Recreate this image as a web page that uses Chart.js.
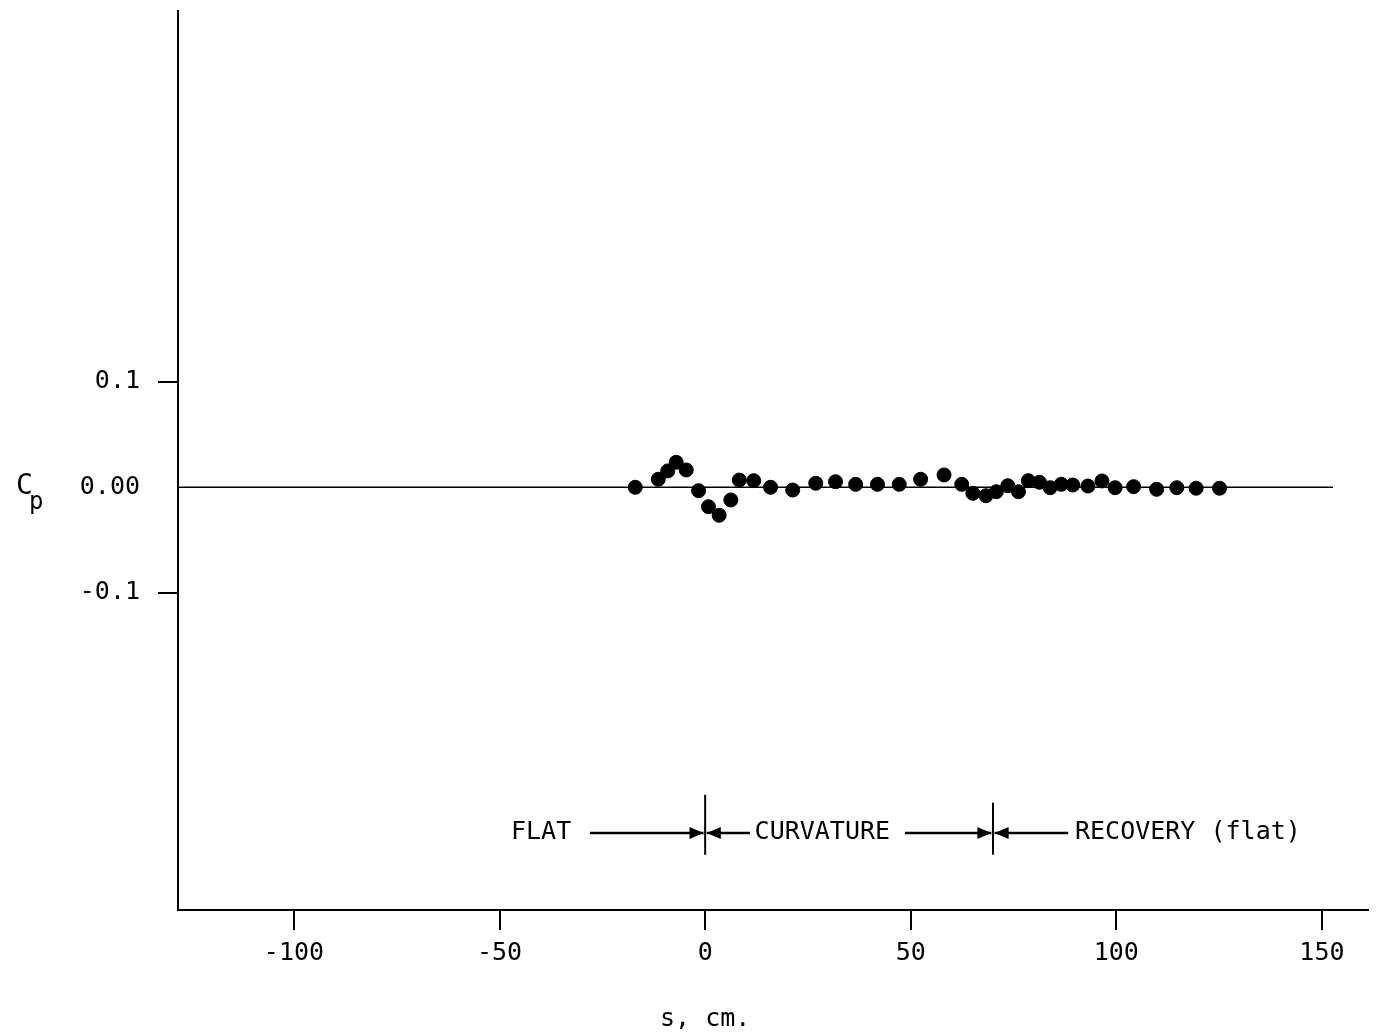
<!DOCTYPE html>
<html>
<head>
<meta charset="utf-8">
<script src="https://cdn.jsdelivr.net/npm/chart.js@4.4.1/dist/chart.umd.min.js"></script>
<style>
  html, body { margin: 0; padding: 0; background: #fff; }
  canvas { display: block; }
</style>
</head>
<body>
<canvas id="c" width="1376" height="1034"></canvas>
<script>
// ---- data ----
const sValues = [-17.0, -11.4, -9.1, -7.05, -4.6, -1.6, 0.8, 3.4, 6.25, 8.3, 11.8, 15.9, 21.3, 26.9, 31.7, 36.6, 41.9, 47.2, 52.4, 58.1, 62.4, 65.1, 68.3, 70.8, 73.6, 76.2, 78.6, 81.3, 83.9, 86.6, 89.4, 93.1, 96.5, 99.7, 104.2, 109.8, 114.7, 119.4, 125.1];
const cpValues = [0.000, 0.0076, 0.0155, 0.0237, 0.0164, -0.0032, -0.0184, -0.0265, -0.0120, 0.0069, 0.0063, 0.000, -0.0026, 0.0038, 0.0053, 0.0028, 0.0028, 0.0028, 0.0076, 0.0117, 0.0028, -0.0057, -0.0080, -0.0042, 0.0015, -0.0042, 0.0063, 0.0047, -0.0004, 0.0028, 0.0022, 0.0012, 0.0060, -0.0004, 0.0006, -0.0019, -0.0004, -0.0009, -0.0009];
const xTicks = [-100, -50, 0, 50, 100, 150];
const yTicks = [-0.1, 0, 0.1];
const yTickLabels = ['-0.1', '0.00', '0.1'];
const zeroLineS = [-128.2, 152.7];
const sectionBounds = [0, 70];
const sectionNames = ['FLAT', 'CURVATURE', 'RECOVERY (flat)'];

const FONT = '"DejaVu Sans Mono", "Liberation Mono", monospace';

const points = sValues.map((s, i) => ({ x: s, y: cpValues[i] }));

const overlay = {
  id: 'overlay',
  afterDraw(chart) {
    const ctx = chart.ctx;
    const xs = chart.scales.x, ys = chart.scales.y;
    const X = v => xs.getPixelForValue(v);
    const Y = v => ys.getPixelForValue(v);
    ctx.save();
    ctx.fillStyle = '#000';
    ctx.strokeStyle = '#000';

    // y axis title C_p
    const y0 = Y(0);
    ctx.font = '28px ' + FONT;
    ctx.textAlign = 'left';
    ctx.textBaseline = 'middle';
    ctx.fillText('C', 16, y0 - 1);
    ctx.font = '24px ' + FONT;
    ctx.fillText('p', 29, y0 + 15);

    // x axis title
    ctx.font = '25px ' + FONT;
    ctx.textAlign = 'center';
    ctx.fillText('s, cm.', X(0), 1019);

    // section annotation
    const ay = Y(-0.3277);
    const arrow = (s1, s2) => {
      const x1 = X(s1), x2 = X(s2);
      ctx.lineWidth = 2.5;
      ctx.beginPath(); ctx.moveTo(x1, ay); ctx.lineTo(x2, ay); ctx.stroke();
      const dir = Math.sign(x2 - x1);
      ctx.beginPath();
      ctx.moveTo(x2, ay);
      ctx.lineTo(x2 - dir * 14, ay - 6);
      ctx.lineTo(x2 - dir * 14, ay + 6);
      ctx.closePath(); ctx.fill();
    };
    ctx.lineWidth = 2;
    ctx.beginPath();
    ctx.moveTo(X(sectionBounds[0]), Y(-0.2915)); ctx.lineTo(X(sectionBounds[0]), Y(-0.3484));
    ctx.moveTo(X(sectionBounds[1]), Y(-0.2991)); ctx.lineTo(X(sectionBounds[1]), Y(-0.3484));
    ctx.stroke();
    arrow(-28, sectionBounds[0] - 0.4);
    arrow(10.9, sectionBounds[0] + 0.4);
    arrow(48.6, sectionBounds[1] - 0.4);
    arrow(88.3, sectionBounds[1] + 0.4);

    ctx.font = '25px ' + FONT;
    ctx.textAlign = 'center';
    ctx.textBaseline = 'middle';
    ctx.fillText(sectionNames[0], X(-39.9), ay);
    ctx.fillText(sectionNames[1], X(28.5), ay);
    ctx.fillText(sectionNames[2], X(117.4), ay);
    ctx.restore();
  }
};

new Chart(document.getElementById('c'), {
  data: {
    datasets: [
      {
        type: 'line',
        data: zeroLineS.map(s => ({ x: s, y: 0 })),
        borderColor: '#000',
        borderWidth: 1.6,
        pointRadius: 0,
        fill: false
      },
      {
        type: 'scatter',
        data: points,
        backgroundColor: '#000',
        borderColor: '#000',
        pointRadius: 7,
        pointHoverRadius: 7
      }
    ]
  },
  options: {
    responsive: false,
    animation: false,
    devicePixelRatio: 1,
    layout: { padding: { top: 11, right: 0, left: 0, bottom: 0 } },
    plugins: { legend: { display: false }, tooltip: { enabled: false } },
    scales: {
      x: {
        type: 'linear',
        min: -128.2,
        max: 161.2,
        afterBuildTicks: s => { s.ticks = xTicks.map(v => ({ value: v })); },
        afterFit: s => { s.height = 124; s.paddingLeft = 0; s.paddingRight = 0; },
        border: { display: true, color: '#000', width: 2 },
        grid: { drawOnChartArea: false, drawTicks: true, tickLength: 20, color: '#000', lineWidth: 2 },
        ticks: { color: '#000', font: { family: FONT, size: 25 }, padding: 8, maxRotation: 0,
                 callback: v => String(v) }
      },
      y: {
        type: 'linear',
        min: -0.4007,
        max: 0.4515,
        afterBuildTicks: s => { s.ticks = yTicks.map(v => ({ value: v })); },
        afterFit: s => { s.width = 178; s.paddingTop = 0; s.paddingBottom = 0; },
        border: { display: true, color: '#000', width: 2 },
        grid: { drawOnChartArea: false, drawTicks: true, tickLength: 20, lineWidth: 2,
                color: c => (c.tick && c.tick.value === 0) ? 'rgba(0,0,0,0)' : '#000' },
        ticks: { color: '#000', font: { family: FONT, size: 25 }, padding: 18,
                 callback: v => yTickLabels[yTicks.indexOf(v)] }
      }
    }
  },
  plugins: [overlay]
});
</script>
</body>
</html>
